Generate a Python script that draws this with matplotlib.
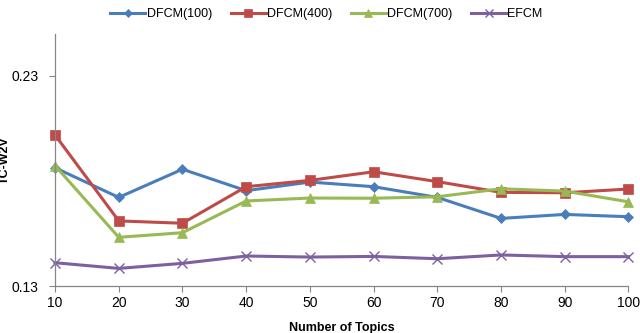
"""
Đường TC-W2V theo số chủ đề cho DFCM và EFCM.
"""
import matplotlib
matplotlib.use("Agg")
import matplotlib.pyplot as plt

topics = [10, 20, 30, 40, 50, 60, 70, 80, 90, 100]
dfcm_100 = [0.1863, 0.1722, 0.1856, 0.1754, 0.1795, 0.1773, 0.1722, 0.1622, 0.1641, 0.1630]
dfcm_400 = [0.2019, 0.1610, 0.1599, 0.1773, 0.1803, 0.1844, 0.1797, 0.1746, 0.1744, 0.1762]
dfcm_700 = [0.1873, 0.1532, 0.1554, 0.1705, 0.1719, 0.1718, 0.1725, 0.1763, 0.1752, 0.1701]
efcm = [0.1411, 0.1384, 0.1408, 0.1443, 0.1438, 0.1441, 0.1430, 0.1448, 0.1440, 0.1440]
y_ticks = [0.13, 0.23]

plt.rcParams["font.family"] = ["Liberation Sans", "DejaVu Sans"]

fig = plt.figure(figsize=(6.4, 3.33), dpi=100)
ax = fig.add_axes([0.086, 0.141, 0.896, 0.757])

series = [
    ("DFCM(100)", dfcm_100, "#4A7EBB", "D", 5),
    ("DFCM(400)", dfcm_400, "#BE4B48", "s", 7),
    ("DFCM(700)", dfcm_700, "#98B954", "^", 7),
    ("EFCM", efcm, "#7D60A0", "x", 7),
]
for name, vals, color, marker, ms in series:
    ax.plot(topics, vals, label=name, color=color, marker=marker, markersize=ms,
            linewidth=2.2, markeredgewidth=1.0 if marker == "x" else 0.5,
            markeredgecolor=color, clip_on=False)

ax.set_xlim(10, 100)
ax.set_ylim(0.13, 0.25)
ax.set_xticks(topics)
ax.set_yticks(y_ticks)
ax.set_yticklabels(["0.13", "0.23"])
ax.tick_params(labelsize=10, color="#868686", length=4, width=0.8)
ax.tick_params(axis="y", pad=8)

for side in ["top", "right"]:
    ax.spines[side].set_visible(False)
for side in ["left", "bottom"]:
    ax.spines[side].set_color("#868686")
    ax.spines[side].set_linewidth(0.9)

ax.set_xlabel("Number of Topics", fontsize=9, fontweight="bold", labelpad=8)
ax.set_ylabel("TC-W2V", fontsize=9, fontweight="bold")
ax.yaxis.set_label_coords(-0.077, 0.5)

fig.legend(loc="upper center", bbox_to_anchor=(0.51, 1.01), ncol=4, frameon=False,
           fontsize=9, handlelength=2.8, handletextpad=0.1, columnspacing=1.5,
           markerscale=0.8)

fig.savefig("out.png", dpi=100)
